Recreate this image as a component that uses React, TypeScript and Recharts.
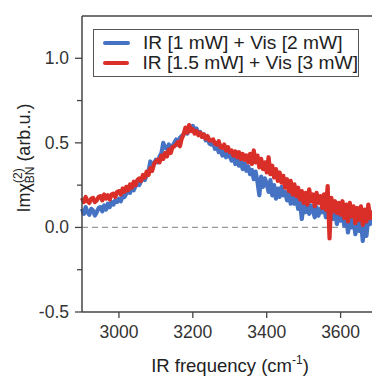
import { Legend, Line, LineChart, ReferenceLine, XAxis, YAxis } from "recharts";

// spectra sampled every 5 cm-1 from 2900 cm-1
const FREQ_START = 2900;
const FREQ_STEP = 5;

const lowPower = [
  0.11, 0.08, 0.12, 0.09, 0.075, 0.11, 0.1, 0.07, 0.09, 0.115,
  0.12, 0.095, 0.13, 0.105, 0.14, 0.12, 0.15, 0.135, 0.16, 0.15,
  0.17, 0.155, 0.185, 0.18, 0.2, 0.21, 0.205, 0.23, 0.22, 0.245,
  0.26, 0.25, 0.275, 0.29, 0.28, 0.31, 0.33, 0.39, 0.36, 0.38,
  0.4, 0.385, 0.42, 0.44, 0.5, 0.47, 0.465, 0.49, 0.46, 0.48,
  0.5, 0.52, 0.49, 0.53, 0.54, 0.55, 0.57, 0.555, 0.59, 0.58,
  0.6, 0.565, 0.585, 0.555, 0.565, 0.535, 0.55, 0.515, 0.53, 0.495,
  0.49, 0.5, 0.465, 0.48, 0.445, 0.465, 0.425, 0.45, 0.415, 0.44,
  0.42, 0.395, 0.43, 0.375, 0.41, 0.365, 0.39, 0.345, 0.38, 0.335,
  0.36, 0.315, 0.34, 0.285, 0.33, 0.27, 0.19, 0.3, 0.24, 0.29,
  0.26, 0.21, 0.28, 0.19, 0.25, 0.17, 0.23, 0.18, 0.24, 0.19,
  0.21, 0.16, 0.2, 0.14, 0.19, 0.14, 0.18, 0.11, 0.16, 0.05,
  0.14, 0.09, 0.15, 0.08, 0.13, 0.1, 0.06, 0.12, 0.07, 0.11,
  0.09, 0.13, 0.06, 0.11, 0.04, 0.1, 0.05, 0.09, 0.02, 0.08,
  0.04, 0.09, 0.01, 0.07, -0.03, 0.06, 0.0, 0.05, -0.04, 0.04,
  -0.02, 0.05, -0.08, 0.03, -0.05, 0.06, 0.02, 0.1,
];

const highPower = [
  0.175, 0.15, 0.18, 0.155, 0.145, 0.17, 0.175, 0.15, 0.16, 0.18,
  0.185, 0.16, 0.195, 0.17, 0.19, 0.165, 0.195, 0.2, 0.18, 0.21,
  0.215, 0.195, 0.23, 0.21, 0.24, 0.22, 0.255, 0.235, 0.27, 0.25,
  0.28, 0.29, 0.275, 0.31, 0.295, 0.33, 0.31, 0.35, 0.335, 0.375,
  0.39, 0.4, 0.385, 0.425, 0.405, 0.44, 0.42, 0.46, 0.44, 0.475,
  0.48, 0.49, 0.505, 0.48, 0.525, 0.55, 0.59, 0.56, 0.605, 0.57,
  0.58, 0.555, 0.57, 0.545, 0.56, 0.535, 0.55, 0.525, 0.54, 0.515,
  0.515, 0.52, 0.495, 0.49, 0.51, 0.475, 0.47, 0.49, 0.455, 0.475,
  0.445, 0.455, 0.425, 0.45, 0.415, 0.445, 0.405, 0.435, 0.4, 0.425,
  0.385, 0.435, 0.375, 0.455, 0.385, 0.425, 0.355, 0.405, 0.345, 0.385,
  0.325, 0.415, 0.315, 0.365, 0.295, 0.345, 0.275, 0.325, 0.265, 0.305,
  0.235, 0.285, 0.215, 0.275, 0.195, 0.255, 0.185, 0.235, 0.165, 0.215,
  0.145, 0.205, 0.135, 0.225, 0.155, 0.195, 0.125, 0.205, 0.145, 0.185,
  0.115, 0.195, 0.105, 0.245, -0.065, 0.175, 0.095, 0.155, 0.085, 0.145,
  0.075, 0.155, 0.055, 0.135, 0.035, 0.145, 0.065, 0.125, 0.025, 0.115,
  0.045, 0.125, 0.015, 0.105, 0.035, 0.135, 0.055, 0.1,
];

const xTicks = [3000, 3100, 3200, 3300, 3400, 3500, 3600];
const yTicks = [-0.5, -0.25, 0, 0.25, 0.5, 0.75, 1];
const seriesNames = ["IR [1 mW] + Vis [2 mW]", "IR [1.5 mW] + Vis [3 mW]"];

const BLUE = "#4672c4";
const RED = "#da2e29";
const AXIS = "#444";
const FONT = "'Liberation Sans', Arial, sans-serif";

const data = lowPower.map((v, i) => ({
  freq: FREQ_START + FREQ_STEP * i,
  low: v,
  high: highPower[i],
}));

function XTick({ x, y, payload }: any) {
  const major = payload.value % 200 === 0;
  return (
    <g>
      <line x1={x} x2={x} y1={y} y2={y + (major ? 6 : 4)} stroke={AXIS} strokeWidth={1.3} />
      {major && (
        <text x={x} y={y + 26} textAnchor="middle" fontSize={17.5} fill="#333" fontFamily={FONT}>
          {payload.value}
        </text>
      )}
    </g>
  );
}

function YTick({ x, y, payload }: any) {
  const major = Math.abs((payload.value * 2) % 1) < 1e-9;
  return (
    <g>
      <line x1={x - (major ? 7 : 5)} x2={x} y1={y} y2={y} stroke={AXIS} strokeWidth={1.3} />
      {major && (
        <text x={x - 13} y={y + 6} textAnchor="end" fontSize={17.5} fill="#333" fontFamily={FONT}>
          {payload.value.toFixed(1)}
        </text>
      )}
    </g>
  );
}

function LegendBox() {
  const colors = [BLUE, RED];
  return (
    <div
      style={{
        width: 266,
        height: 48,
        boxSizing: "border-box",
        border: "1.5px solid #555",
        background: "#fff",
        paddingTop: 3,
        fontFamily: FONT,
      }}
    >
      {seriesNames.map((name, i) => (
        <div key={name} style={{ display: "flex", alignItems: "center", height: 20 }}>
          <div style={{ width: 27, height: 4, borderRadius: 2, background: colors[i], marginLeft: 9, marginRight: 13 }} />
          <span style={{ fontSize: 19.2, color: "#222", whiteSpace: "nowrap", lineHeight: "20px" }}>{name}</span>
        </div>
      ))}
    </div>
  );
}

export default function App() {
  return (
    <div style={{ position: "absolute", left: 0, top: 0, background: "#fff" }}>
      <LineChart width={372} height={376} data={data} margin={{ top: 16, right: 0, left: 0, bottom: 0 }}>
        <XAxis
          dataKey="freq"
          type="number"
          domain={[2900, 3685]}
          ticks={xTicks}
          tick={<XTick />}
          tickLine={false}
          tickSize={0}
          tickMargin={0}
          height={64}
          axisLine={{ stroke: AXIS, strokeWidth: 1.5 }}
          label={{
            content: ({ viewBox }: any) => {
              const cx = viewBox.x + viewBox.width / 2 + 3;
              return (
                <text x={cx} y={372} textAnchor="middle" fontSize={18.5} fill="#222" fontFamily={FONT}>
                  IR frequency (cm
                  <tspan fontSize={12} dy={-8}>-1</tspan>
                  <tspan dy={8}>)</tspan>
                </text>
              );
            },
          }}
        />
        <YAxis
          type="number"
          domain={[-0.5, 1.25]}
          ticks={yTicks}
          tick={<YTick />}
          tickLine={false}
          tickSize={0}
          tickMargin={0}
          width={82}
          axisLine={{ stroke: AXIS, strokeWidth: 1.5 }}
          label={{
            content: ({ viewBox }: any) => {
              const cx = 30;
              const cy = viewBox.y + viewBox.height / 2 - 6;
              return (
                <text
                  x={cx}
                  y={cy}
                  transform={`rotate(-90 ${cx} ${cy})`}
                  textAnchor="middle"
                  fontSize={18}
                  fill="#222"
                  fontFamily={FONT}
                >
                  Imχ
                  <tspan fontSize={12} dy={-8}>(2)</tspan>
                  <tspan fontSize={12} dx={-15} dy={12}>BN</tspan>
                  <tspan dy={-4}> (arb.u.)</tspan>
                </text>
              );
            },
          }}
        />
        <ReferenceLine y={1.25} stroke={AXIS} strokeWidth={1.5} />
        <ReferenceLine y={0} stroke="#9a9a9a" strokeWidth={1.3} strokeDasharray="6 4" />
        <Line
          dataKey="low"
          name={seriesNames[0]}
          stroke={BLUE}
          strokeWidth={4.2}
          strokeLinejoin="round"
          dot={false}
          type="linear"
          isAnimationActive={false}
        />
        <Line
          dataKey="high"
          name={seriesNames[1]}
          stroke={RED}
          strokeWidth={4.2}
          strokeLinejoin="round"
          dot={false}
          type="linear"
          isAnimationActive={false}
        />
        <Legend
          layout="horizontal"
          verticalAlign="middle"
          align="center"
          content={() => <LegendBox />}
          wrapperStyle={{ left: 93, top: 29, width: 266 }}
        />
      </LineChart>
    </div>
  );
}
